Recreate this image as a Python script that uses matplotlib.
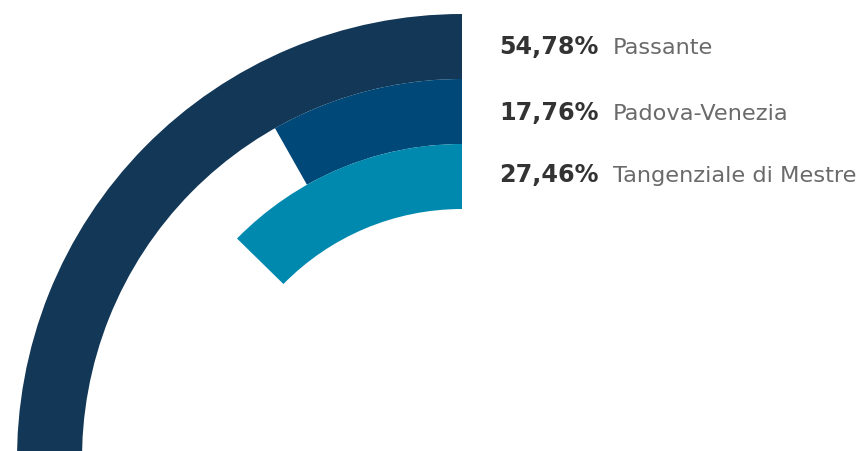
import matplotlib
matplotlib.use("Agg")
import matplotlib.pyplot as plt
from matplotlib.patches import Wedge

# Data
categories = ["Passante", "Padova-Venezia", "Tangenziale di Mestre"]
values = [54.78, 17.76, 27.46]
value_labels = ["54,78%", "17,76%", "27,46%"]
colors = ["#133757", "#004877", "#0089AE"]

deg_per_pct = 1.66
W, H = 864, 452
fig = plt.figure(figsize=(W / 100, H / 100), dpi=100)
ax = fig.add_axes([0, 0, 1, 1])
ax.set_xlim(0, W)
ax.set_ylim(H, 0)
ax.axis("off")

cx, cy = 462, 460
ring_w = 65
r_outer = 445
for i, (v, c) in enumerate(zip(values, colors)):
    r = r_outer - i * ring_w
    ang = v * deg_per_pct
    w = Wedge((cx, cy), r, -90 - ang, -90, width=ring_w, facecolor=c, edgecolor="none")
    ax.add_patch(w)

baselines = [54.5, 119.5, 182.5]
for lab, cat, yb in zip(value_labels, categories, baselines):
    ax.text(499, yb, lab, fontsize=17.2, fontweight="bold", color="#333333",
            family="DejaVu Sans", va="baseline", ha="left")
    ax.text(613, yb, cat, fontsize=16.2, fontweight="normal", color="#6a6a6a",
            family="DejaVu Sans", va="baseline", ha="left")

fig.savefig("out.png", dpi=100)
